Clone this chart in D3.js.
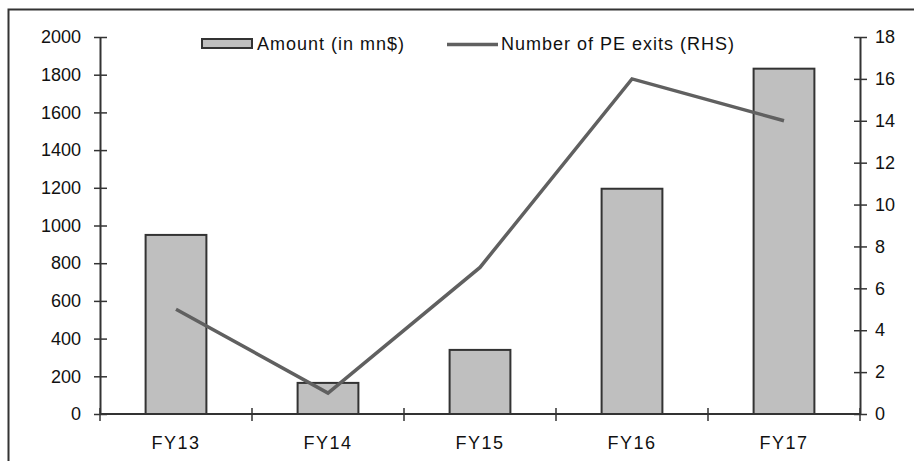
<!DOCTYPE html>
<html><head><meta charset="utf-8">
<script src="https://cdn.jsdelivr.net/npm/d3@7/dist/d3.min.js"></script>
<style>
html,body{margin:0;padding:0;background:#fff;}
svg{display:block;font-family:"Liberation Sans",Arial,sans-serif;}
</style></head>
<body>
<svg id="chart" width="914" height="461"></svg>
<script>
const categories = ["FY13","FY14","FY15","FY16","FY17"];
const amounts = [950, 165, 340, 1195, 1832];
const exits = [5, 1, 7, 16, 14];
const leftTicks = [0,200,400,600,800,1000,1200,1400,1600,1800,2000];
const rightTicks = [0,2,4,6,8,10,12,14,16,18];
const seriesNames = ["Amount (in mn$)", "Number of PE exits (RHS)"];

const svg = d3.select("#chart");
const L = 100, R = 860, T = 37, B = 414;

// frame
svg.append("rect").attr("x",8.5).attr("y",9.5).attr("width",940).attr("height",500)
  .attr("fill","none").attr("stroke","#333").attr("stroke-width",2);

const x = d3.scaleBand().domain(categories).range([L,R]).paddingInner(0.6).paddingOuter(0.3);
const yL = d3.scaleLinear().domain([0,2000]).range([B,T]);
const yR = d3.scaleLinear().domain([0,18]).range([B,T]);

// bars
svg.append("g").selectAll("rect").data(amounts).join("rect")
  .attr("x",(d,i)=>x(categories[i]))
  .attr("y",d=>yL(d))
  .attr("width",x.bandwidth())
  .attr("height",d=>B-yL(d))
  .attr("fill","#bfbfbf").attr("stroke","#333").attr("stroke-width",2);

// left axis
const gL = svg.append("g").attr("transform",`translate(${L},0)`)
  .call(d3.axisLeft(yL).tickValues(leftTicks).tickFormat(d3.format("d")).tickSizeInner(6).tickSizeOuter(0).tickPadding(13));
gL.selectAll(".tick line").attr("x1",-6).attr("x2",7);
// right axis
const gR = svg.append("g").attr("transform",`translate(${R},0)`)
  .call(d3.axisRight(yR).tickValues(rightTicks).tickFormat(d3.format("d")).tickSizeInner(6).tickSizeOuter(0).tickPadding(9));
gR.selectAll(".tick line").attr("x1",-6).attr("x2",7);
// x axis
const gX = svg.append("g").attr("transform",`translate(0,${B})`)
  .call(d3.axisBottom(x).tickSize(0).tickPadding(22));
const bounds = d3.range(categories.length+1).map(i=>L + i*x.step());
gX.selectAll(".bt").data(bounds).join("line").attr("class","bt")
  .attr("x1",d=>d).attr("x2",d=>d).attr("y1",-6).attr("y2",7)
  .attr("stroke","#333").attr("stroke-width",1.5);

[gL,gR,gX].forEach(g=>{
  g.selectAll(".domain").attr("stroke","#333").attr("stroke-width",2);
  g.selectAll(".tick line").attr("stroke","#333").attr("stroke-width",1.5);
  g.selectAll("text").attr("font-size",18).attr("fill","#111")
    .attr("font-family","'Liberation Sans',Arial,sans-serif");
});
gX.selectAll(".tick text").attr("letter-spacing","1.5px");
gX.select(".domain").attr("d",`M${L},0H${R}`);

// line
const line = d3.line().x((d,i)=>x(categories[i])+x.bandwidth()/2).y(d=>yR(d));
svg.append("path").datum(exits).attr("d",line)
  .attr("fill","none").attr("stroke","#606060").attr("stroke-width",3.5);

// legend
const lg = svg.append("g");
lg.append("rect").attr("x",202).attr("y",39).attr("width",50).attr("height",9)
  .attr("fill","#bfbfbf").attr("stroke","#333").attr("stroke-width",2);
lg.append("text").attr("x",257).attr("y",50).attr("font-size",18).attr("fill","#111")
  .attr("letter-spacing","1px").text(seriesNames[0]);
lg.append("line").attr("x1",447).attr("x2",498).attr("y1",44.5).attr("y2",44.5)
  .attr("stroke","#606060").attr("stroke-width",3.5);
lg.append("text").attr("x",501).attr("y",50).attr("font-size",18).attr("fill","#111")
  .attr("letter-spacing","1px").text(seriesNames[1]);
</script>
</body></html>
